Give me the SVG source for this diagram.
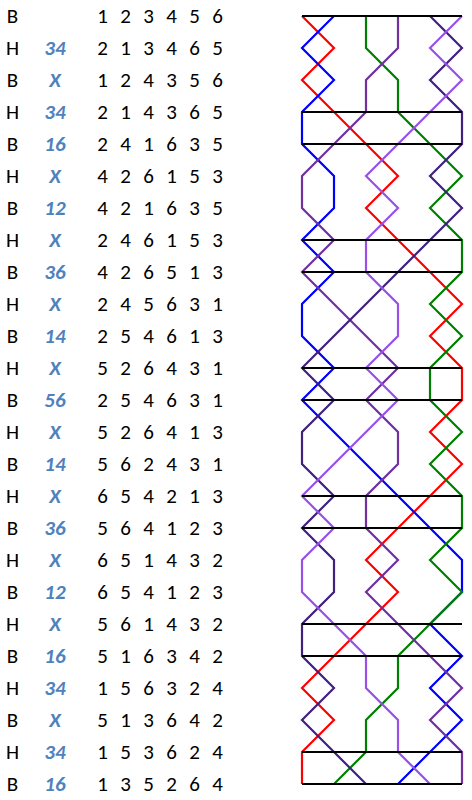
<svg xmlns="http://www.w3.org/2000/svg" width="472" height="800" viewBox="0 0 472 800">
<style>
.t{font-family:Carlito,'Open Sans','Liberation Sans',sans-serif;font-size:21px;fill:#000;text-anchor:middle}
.l{font-family:Carlito,'Open Sans','Liberation Sans',sans-serif;font-size:21px;fill:#4F81BD;font-weight:bold;font-style:italic;text-anchor:middle}
.b{fill:none;stroke-width:2.2;stroke-linejoin:miter}
.h{stroke:#000;stroke-width:2.2}
</style>
<rect width="472" height="800" fill="#fff"/>
<g id="table">
<g id="sides" class="t">
<text x="12.5" y="22.7">B</text><text x="12.5" y="54.7">H</text><text x="12.5" y="86.7">B</text><text x="12.5" y="118.7">H</text><text x="12.5" y="150.7">B</text><text x="12.5" y="182.7">H</text><text x="12.5" y="214.7">B</text><text x="12.5" y="246.7">H</text><text x="12.5" y="278.7">B</text><text x="12.5" y="310.7">H</text><text x="12.5" y="342.7">B</text><text x="12.5" y="374.7">H</text><text x="12.5" y="406.7">B</text><text x="12.5" y="438.7">H</text><text x="12.5" y="470.7">B</text><text x="12.5" y="502.7">H</text><text x="12.5" y="534.7">B</text><text x="12.5" y="566.7">H</text><text x="12.5" y="598.7">B</text><text x="12.5" y="630.7">H</text><text x="12.5" y="662.7">B</text><text x="12.5" y="694.7">H</text><text x="12.5" y="726.7">B</text><text x="12.5" y="758.7">H</text><text x="12.5" y="790.7">B</text>
</g>
<g id="notation" class="l">
<text x="55" y="54.7">34</text><text x="55" y="86.7">X</text><text x="55" y="118.7">34</text><text x="55" y="150.7">16</text><text x="55" y="182.7">X</text><text x="55" y="214.7">12</text><text x="55" y="246.7">X</text><text x="55" y="278.7">36</text><text x="55" y="310.7">X</text><text x="55" y="342.7">14</text><text x="55" y="374.7">X</text><text x="55" y="406.7">56</text><text x="55" y="438.7">X</text><text x="55" y="470.7">14</text><text x="55" y="502.7">X</text><text x="55" y="534.7">36</text><text x="55" y="566.7">X</text><text x="55" y="598.7">12</text><text x="55" y="630.7">X</text><text x="55" y="662.7">16</text><text x="55" y="694.7">34</text><text x="55" y="726.7">X</text><text x="55" y="758.7">34</text><text x="55" y="790.7">16</text>
</g>
<g id="rows" class="t">
<text x="102.5 125.5 148.5 171.5 194.5 217.5" y="22.7">123456</text>
<text x="102.5 125.5 148.5 171.5 194.5 217.5" y="54.7">213465</text>
<text x="102.5 125.5 148.5 171.5 194.5 217.5" y="86.7">124356</text>
<text x="102.5 125.5 148.5 171.5 194.5 217.5" y="118.7">214365</text>
<text x="102.5 125.5 148.5 171.5 194.5 217.5" y="150.7">241635</text>
<text x="102.5 125.5 148.5 171.5 194.5 217.5" y="182.7">426153</text>
<text x="102.5 125.5 148.5 171.5 194.5 217.5" y="214.7">421635</text>
<text x="102.5 125.5 148.5 171.5 194.5 217.5" y="246.7">246153</text>
<text x="102.5 125.5 148.5 171.5 194.5 217.5" y="278.7">426513</text>
<text x="102.5 125.5 148.5 171.5 194.5 217.5" y="310.7">245631</text>
<text x="102.5 125.5 148.5 171.5 194.5 217.5" y="342.7">254613</text>
<text x="102.5 125.5 148.5 171.5 194.5 217.5" y="374.7">526431</text>
<text x="102.5 125.5 148.5 171.5 194.5 217.5" y="406.7">254631</text>
<text x="102.5 125.5 148.5 171.5 194.5 217.5" y="438.7">526413</text>
<text x="102.5 125.5 148.5 171.5 194.5 217.5" y="470.7">562431</text>
<text x="102.5 125.5 148.5 171.5 194.5 217.5" y="502.7">654213</text>
<text x="102.5 125.5 148.5 171.5 194.5 217.5" y="534.7">564123</text>
<text x="102.5 125.5 148.5 171.5 194.5 217.5" y="566.7">651432</text>
<text x="102.5 125.5 148.5 171.5 194.5 217.5" y="598.7">654123</text>
<text x="102.5 125.5 148.5 171.5 194.5 217.5" y="630.7">561432</text>
<text x="102.5 125.5 148.5 171.5 194.5 217.5" y="662.7">516342</text>
<text x="102.5 125.5 148.5 171.5 194.5 217.5" y="694.7">156324</text>
<text x="102.5 125.5 148.5 171.5 194.5 217.5" y="726.7">513642</text>
<text x="102.5 125.5 148.5 171.5 194.5 217.5" y="758.7">153624</text>
<text x="102.5 125.5 148.5 171.5 194.5 217.5" y="790.7">135264</text>
</g>
</g>
<g id="lines">
<polyline id="bell1" class="b" stroke="#FF0000" points="302,16 334,48 302,80 334,112 366,144 398,176 366,208 398,240 430,272 462,304 430,336 462,368 462,400 430,432 462,464 430,496 398,528 366,560 398,592 366,624 334,656 302,688 334,720 302,752 302,784"/>
<polyline id="bell2" class="b" stroke="#0000FF" points="334,16 302,48 334,80 302,112 302,144 334,176 334,208 302,240 334,272 302,304 302,336 334,368 302,400 334,432 366,464 398,496 430,528 462,560 462,592 430,624 462,656 430,688 462,720 430,752 398,784"/>
<polyline id="bell3" class="b" stroke="#008000" points="366,16 366,48 398,80 398,112 430,144 462,176 430,208 462,240 462,272 430,304 462,336 430,368 430,400 462,432 430,464 462,496 462,528 430,560 462,592 430,624 398,656 398,688 366,720 366,752 334,784"/>
<polyline id="bell4" class="b" stroke="#7030A0" points="398,16 398,48 366,80 366,112 334,144 302,176 302,208 334,240 302,272 334,304 366,336 398,368 366,400 398,432 398,464 366,496 366,528 398,560 366,592 398,624 430,656 462,688 430,720 462,752 462,784"/>
<polyline id="bell5" class="b" stroke="#402080" points="430,16 462,48 430,80 462,112 462,144 430,176 462,208 430,240 398,272 366,304 334,336 302,368 334,400 302,432 302,464 334,496 302,528 334,560 334,592 302,624 302,656 334,688 302,720 334,752 366,784"/>
<polyline id="bell6" class="b" stroke="#9950E8" points="462,16 430,48 462,80 430,112 398,144 366,176 398,208 366,240 366,272 398,304 398,336 366,368 398,400 366,432 334,464 302,496 334,528 302,560 302,592 334,624 366,656 366,688 398,720 398,752 430,784"/>
<g id="leads" class="h">
<line x1="302" y1="16" x2="462" y2="16"/>
<line x1="302" y1="112" x2="462" y2="112"/>
<line x1="302" y1="144" x2="462" y2="144"/>
<line x1="302" y1="240" x2="462" y2="240"/>
<line x1="302" y1="272" x2="462" y2="272"/>
<line x1="302" y1="368" x2="462" y2="368"/>
<line x1="302" y1="400" x2="462" y2="400"/>
<line x1="302" y1="496" x2="462" y2="496"/>
<line x1="302" y1="528" x2="462" y2="528"/>
<line x1="302" y1="624" x2="462" y2="624"/>
<line x1="302" y1="656" x2="462" y2="656"/>
<line x1="302" y1="752" x2="462" y2="752"/>
<line x1="302" y1="784" x2="462" y2="784"/>
</g>
</g>
</svg>
